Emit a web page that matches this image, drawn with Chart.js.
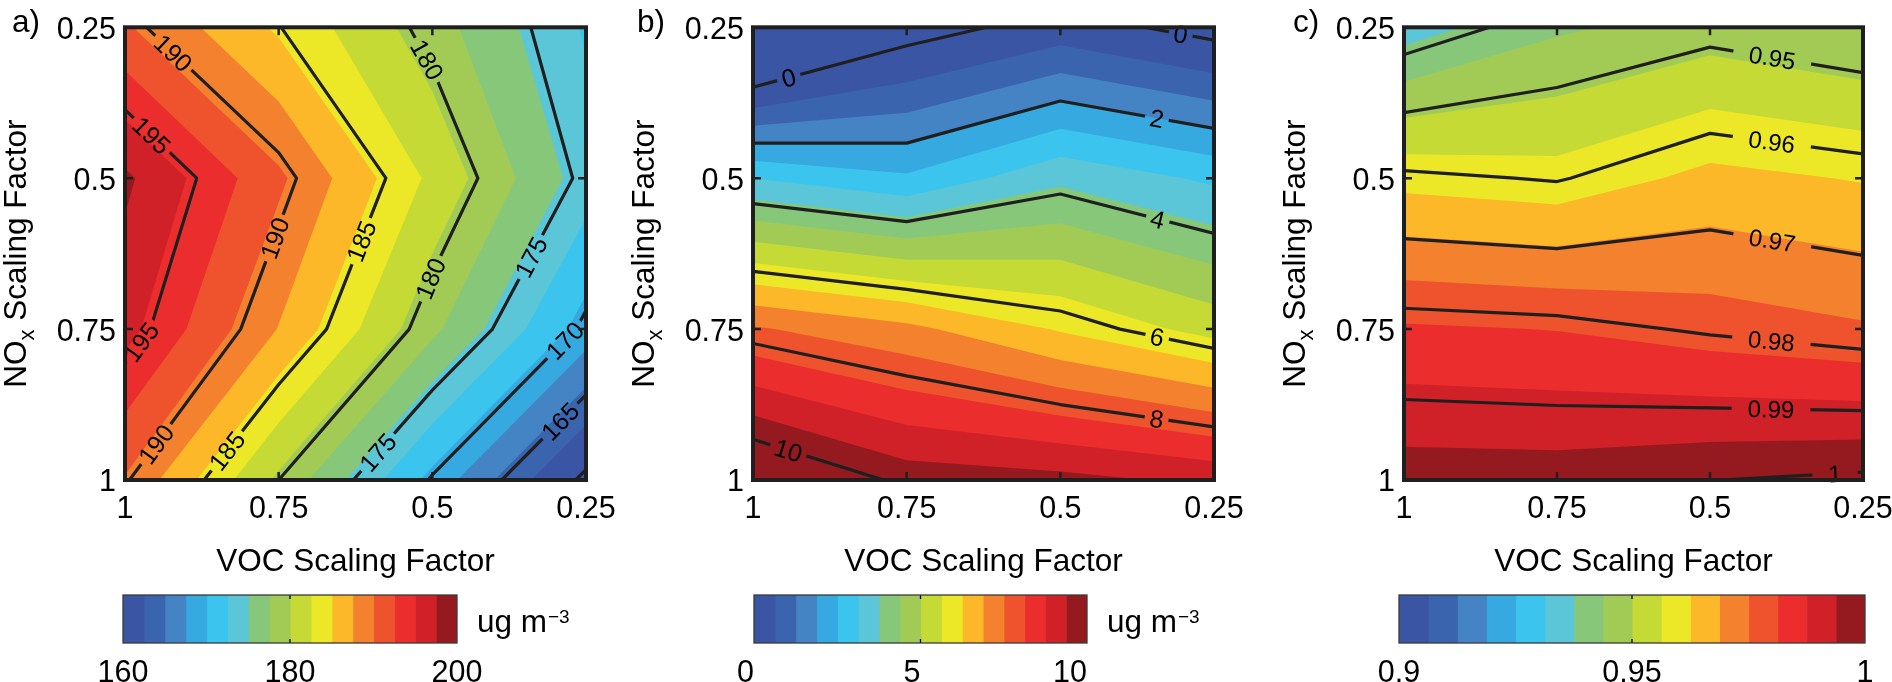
<!DOCTYPE html>
<html>
<head>
<meta charset="utf-8">
<script src="https://cdn.jsdelivr.net/npm/chart.js@4.4.0/dist/chart.umd.min.js"></script>
<style>
html,body{margin:0;padding:0;background:#fff;}
#wrap{position:relative;width:1892px;height:682px;overflow:hidden;background:#fff;}
#wrap canvas{position:absolute;}
</style>
</head>
<body>
<div id="wrap"></div>
<script>
// ---------------- DATA ----------------
const vocScaling = [1, 0.75, 0.5, 0.25];          // columns, left -> right
const noxScaling = [0.25, 0.5, 0.75, 1];          // rows, top -> bottom
const axisTickValues = [0.25, 0.5, 0.75, 1];
const axisTickLabels = ['0.25', '0.5', '0.75', '1'];

// values[row = NOx][col = VOC]
const valuesA = [
  [190.8, 185.1, 179.1, 172.7],
  [198.5, 191.0, 182.4, 174.3],
  [196.4, 187.9, 178.6, 169.4],
  [190.3, 180.0, 169.7, 159.3]
];
const valuesB = [
  [-2.14, -0.38, 0.35, -0.29],
  [3.25, 2.72, 3.73, 3.13],
  [7.70, 7.17, 6.31, 5.51],
  [10.85, 9.85, 9.69, 9.35]
];
const valuesC = [
  [0.9353, 0.9437, 0.9477, 0.9444],
  [0.9613, 0.9595, 0.9652, 0.9630],
  [0.9830, 0.9820, 0.9792, 0.9767],
  [0.9980, 0.9978, 0.9999, 1.0013]
];

const contourLevelsA = [160, 165, 170, 175, 180, 185, 190, 195, 200];
const contourLevelsB = [0, 2, 4, 6, 8, 10];
const contourLevelsC = [0.90, 0.91, 0.92, 0.93, 0.94, 0.95, 0.96, 0.97, 0.98, 0.99, 1.00];

const colorRangeA = [160, 200];
const colorRangeB = [0, 10];
const colorRangeC = [0.9, 1];

const colorbarTicksA = [160, 180, 200];
const colorbarLabelsA = ['160', '180', '200'];
const colorbarTicksB = [0, 5, 10];
const colorbarLabelsB = ['0', '5', '10'];
const colorbarTicksC = [0.9, 0.95, 1];
const colorbarLabelsC = ['0.9', '0.95', '1'];

const COLORS = ['#3B55A5','#3B64AF','#4484C4','#35A9E0','#3BC4EE','#5AC6D8','#87C77A','#A2CB56',
                '#C6DA36','#ECE827','#FCB829','#F3812D','#EE532D','#EB2D2E','#D02128','#951A1F'];

// ---------------- HELPERS ----------------
const FONT = "'Liberation Sans', Arial, Helvetica, sans-serif";
Chart.defaults.font.family = FONT;
Chart.defaults.color = '#000';
const INK = '#1f1f1f';

function lerpPt(a, b, L) {
  const t = (L - a.v) / (b.v - a.v);
  return {x: a.x + t * (b.x - a.x), y: a.y + t * (b.y - a.y), v: L};
}
function clipAbove(poly, L) {
  const out = [];
  for (let i = 0; i < poly.length; i++) {
    const a = poly[i], b = poly[(i + 1) % poly.length];
    const ia = a.v >= L, ib = b.v >= L;
    if (ia) out.push(a);
    if (ia !== ib) out.push(lerpPt(a, b, L));
  }
  return out;
}
function contourLines(nodes, L) {
  const nr = nodes.length, nc = nodes[0].length;
  const val = (r, c) => { const v = nodes[r][c].v; return v === L ? v + 1e-9 : v; };
  const pts = {};
  const edge = (key, r1, c1, r2, c2) => {
    if (!pts[key]) {
      const a = nodes[r1][c1], b = nodes[r2][c2];
      const va = val(r1, c1), vb = val(r2, c2);
      const t = (L - va) / (vb - va);
      pts[key] = {x: a.x + t * (b.x - a.x), y: a.y + t * (b.y - a.y)};
    }
    return key;
  };
  const segs = [];
  for (let r = 0; r < nr - 1; r++) {
    for (let c = 0; c < nc - 1; c++) {
      const tl = val(r, c), tr = val(r, c + 1), br = val(r + 1, c + 1), bl = val(r + 1, c);
      const top = (tl - L) * (tr - L) < 0 ? edge('h' + r + '_' + c, r, c, r, c + 1) : null;
      const right = (tr - L) * (br - L) < 0 ? edge('v' + r + '_' + (c + 1), r, c + 1, r + 1, c + 1) : null;
      const bottom = (bl - L) * (br - L) < 0 ? edge('h' + (r + 1) + '_' + c, r + 1, c, r + 1, c + 1) : null;
      const left = (tl - L) * (bl - L) < 0 ? edge('v' + r + '_' + c, r, c, r + 1, c) : null;
      const list = [top, right, bottom, left].filter(Boolean);
      if (list.length === 2) segs.push(list);
      else if (list.length === 4) {
        const ctr = (tl + tr + br + bl) / 4;
        if ((ctr > L) === (tl > L)) { segs.push([top, right]); segs.push([bottom, left]); }
        else { segs.push([top, left]); segs.push([right, bottom]); }
      }
    }
  }
  const adj = {};
  segs.forEach((s, i) => { (adj[s[0]] = adj[s[0]] || []).push(i); (adj[s[1]] = adj[s[1]] || []).push(i); });
  const used = new Array(segs.length).fill(false);
  const walk = (k0) => {
    const keys = [k0]; let cur = k0;
    for (;;) {
      const nx = (adj[cur] || []).find(i => !used[i]);
      if (nx === undefined) break;
      used[nx] = true;
      const s = segs[nx];
      cur = s[0] === cur ? s[1] : s[0];
      keys.push(cur);
    }
    return keys;
  };
  const lines = [];
  Object.keys(adj).forEach(k => { if (adj[k].length === 1 && !used[adj[k][0]]) lines.push(walk(k)); });
  segs.forEach((s, i) => { if (!used[i]) lines.push(walk(s[0])); });
  return lines.map(ks => ks.map(k => pts[k]));
}
function placeLabels(P0, key, text, tw, fs, o, area) {
  const from = (o.from && o.from[key]) || o.defaultFrom;
  const f = P0[0], l = P0[P0.length - 1];
  let rev = false;
  if (from === 'top') rev = l.y < f.y - 0.5 || (Math.abs(l.y - f.y) <= 0.5 && l.x > f.x);
  else if (from === 'bottom') rev = l.y > f.y + 0.5;
  else if (from === 'right') rev = l.x > f.x;
  else rev = l.x < f.x;
  const P = rev ? P0.slice().reverse() : P0;
  const seg = []; let total = 0;
  for (let i = 0; i < P.length - 1; i++) {
    const dx = P[i + 1].x - P[i].x, dy = P[i + 1].y - P[i].y, len = Math.hypot(dx, dy);
    seg.push({a: P[i], dx, dy, len, s0: total}); total += len;
  }
  const off = (o.offsets && o.offsets[key] != null) ? o.offsets[key] : o.offset;
  const spacing = (o.spacings && o.spacings[key] != null) ? o.spacings[key] : o.spacing;
  const res = [];
  for (let s = off; s < total; s += spacing) {
    const sg = seg.find(q => s >= q.s0 && s <= q.s0 + q.len);
    if (!sg || sg.len === 0) continue;
    const t = (s - sg.s0) / sg.len;
    const cx = sg.a.x + sg.dx * t, cy = sg.a.y + sg.dy * t;
    let ang = Math.atan2(sg.dy, sg.dx);
    if (ang > Math.PI / 2) ang -= Math.PI; else if (ang <= -Math.PI / 2) ang += Math.PI;
    const hw = tw / 2, hh = 0.716 * fs / 2;
    const ex = Math.abs(hw * Math.cos(ang)) + Math.abs(hh * Math.sin(ang));
    const ey = Math.abs(hw * Math.sin(ang)) + Math.abs(hh * Math.cos(ang));
    const tol = o.tol;
    if (cx - ex < area.left - tol || cx + ex > area.right + tol ||
        cy - ey < area.top - tol || cy + ey > area.bottom + tol) continue;
    res.push({cx, cy, ang, text, tw, fs});
  }
  return res;
}

// ---------------- PLUGINS ----------------
const contourPlugin = {
  id: 'contour',
  beforeDatasetsDraw(chart, args, o) {
    const {ctx, chartArea: area, scales: {x, y}} = chart;
    const raw = chart.data.datasets[0].data;
    const nr = noxScaling.length, nc = vocScaling.length;
    const nodes = [];
    for (let r = 0; r < nr; r++) {
      const row = [];
      for (let c = 0; c < nc; c++) {
        const d = raw[r * nc + c];
        row.push({x: x.getPixelForValue(d.x), y: y.getPixelForValue(d.y), v: d.v});
      }
      nodes.push(row);
    }
    const [cmin, cmax] = o.range;
    const step = (cmax - cmin) / COLORS.length;

    ctx.save();
    ctx.beginPath(); ctx.rect(area.left, area.top, area.width, area.height); ctx.clip();
    for (let k = 0; k < COLORS.length; k++) {
      const lv = cmin + (k + o.fillShift) * step;
      ctx.beginPath();
      for (let r = 0; r < nr - 1; r++) for (let c = 0; c < nc - 1; c++) {
        const poly = [nodes[r][c], nodes[r][c + 1], nodes[r + 1][c + 1], nodes[r + 1][c]];
        const p = k === 0 ? poly : clipAbove(poly, lv);
        if (p.length < 3) continue;
        ctx.moveTo(p[0].x, p[0].y);
        for (let i = 1; i < p.length; i++) ctx.lineTo(p[i].x, p[i].y);
        ctx.closePath();
      }
      ctx.fillStyle = COLORS[k];
      ctx.fill();
    }
    ctx.restore();

    const lo = o.labels;
    ctx.save();
    ctx.font = lo.fontSize + 'px ' + FONT;
    const allLines = [], labels = [];
    o.levels.forEach(L => {
      const key = String(parseFloat(L.toFixed(4)));
      const text = key;
      const tw = ctx.measureText(text).width;
      contourLines(nodes, L).forEach(P => {
        if (P.length < 2) return;
        allLines.push(P);
        placeLabels(P, key, text, tw, lo.fontSize, lo, area).forEach(lb => labels.push(lb));
      });
    });
    ctx.beginPath();
    ctx.rect(area.left, area.top, area.width, area.height);
    labels.forEach(lb => {
      const hw = lb.tw / 2 + lo.gap, hh = lb.fs * 0.6;
      const ca = Math.cos(lb.ang), sa = Math.sin(lb.ang);
      const corners = [[-hw, -hh], [hw, -hh], [hw, hh], [-hw, hh]].map(([u, v]) => [lb.cx + u * ca - v * sa, lb.cy + u * sa + v * ca]);
      ctx.moveTo(corners[0][0], corners[0][1]);
      for (let i = 1; i < 4; i++) ctx.lineTo(corners[i][0], corners[i][1]);
      ctx.closePath();
    });
    ctx.clip('evenodd');
    ctx.strokeStyle = INK; ctx.lineWidth = 3.2; ctx.lineJoin = 'round'; ctx.lineCap = 'butt';
    allLines.forEach(P => {
      ctx.beginPath();
      ctx.moveTo(P[0].x, P[0].y);
      for (let i = 1; i < P.length; i++) ctx.lineTo(P[i].x, P[i].y);
      ctx.stroke();
    });
    ctx.restore();

    ctx.save();
    ctx.fillStyle = '#000';
    ctx.font = lo.fontSize + 'px ' + FONT;
    ctx.textAlign = 'center'; ctx.textBaseline = 'alphabetic';
    labels.forEach(lb => {
      ctx.save();
      ctx.translate(lb.cx, lb.cy); ctx.rotate(lb.ang);
      ctx.fillText(lb.text, 0, 0.716 * lb.fs / 2);
      ctx.restore();
    });
    ctx.restore();

    ctx.save();
    ctx.strokeStyle = INK; ctx.lineWidth = 2.5;
    axisTickValues.forEach(t => {
      const px = x.getPixelForValue(t), py = y.getPixelForValue(t);
      ctx.beginPath();
      ctx.moveTo(px, area.top); ctx.lineTo(px, area.top + 8);
      ctx.moveTo(px, area.bottom); ctx.lineTo(px, area.bottom - 8);
      ctx.moveTo(area.left, py); ctx.lineTo(area.left + 8, py);
      ctx.moveTo(area.right, py); ctx.lineTo(area.right - 8, py);
      ctx.stroke();
    });
    ctx.lineWidth = 4;
    ctx.strokeRect(area.left, area.top, area.width, area.height);
    ctx.restore();
  }
};

const decorPlugin = {
  id: 'decor',
  afterDraw(chart, args, o) {
    const {ctx, chartArea: a} = chart;
    ctx.save();
    ctx.fillStyle = '#000';
    ctx.font = '31.5px ' + FONT;
    ctx.textBaseline = 'alphabetic';
    ctx.textAlign = 'center';
    ctx.fillText('VOC Scaling Factor', (a.left + a.right) / 2, 571);
    const big = '31.5px ' + FONT, small = '22px ' + FONT;
    ctx.font = big; const w1 = ctx.measureText('NO').width, w3 = ctx.measureText(' Scaling Factor').width;
    ctx.font = small; const w2 = ctx.measureText('x').width;
    const tot = w1 + w2 + w3;
    ctx.save();
    ctx.translate(a.left - 99, (a.top + a.bottom) / 2);
    ctx.rotate(-Math.PI / 2);
    ctx.textAlign = 'left';
    ctx.font = big; ctx.fillText('NO', -tot / 2, 0);
    ctx.font = small; ctx.fillText('x', -tot / 2 + w1, 8);
    ctx.font = big; ctx.fillText(' Scaling Factor', -tot / 2 + w1 + w2, 0);
    ctx.restore();
    ctx.textAlign = 'left';
    ctx.font = '31.5px ' + FONT;
    ctx.fillText(o.letter, o.letterX - o.canvasLeft, 32);
    ctx.restore();
  }
};

const cbarPlugin = {
  id: 'cbar',
  afterDatasetsDraw(chart, args, o) {
    const {ctx, chartArea: a, scales: {x}} = chart;
    ctx.save();
    ctx.strokeStyle = '#000'; ctx.lineWidth = 1.3;
    o.ticks.slice(1, -1).forEach(v => {
      const px = x.getPixelForValue(v);
      ctx.beginPath();
      ctx.moveTo(px, a.top); ctx.lineTo(px, a.top + 4);
      ctx.moveTo(px, a.bottom); ctx.lineTo(px, a.bottom - 4);
      ctx.stroke();
    });
    ctx.strokeStyle = '#3a3a3a'; ctx.lineWidth = 1.3;
    ctx.strokeRect(a.left, a.top, a.width, a.height);
    if (o.unit) {
      ctx.fillStyle = '#000';
      ctx.textAlign = 'left'; ctx.textBaseline = 'alphabetic';
      ctx.font = '31.5px ' + FONT;
      const ux = a.right + 20;
      ctx.fillText('ug m', ux, a.top + 37);
      const w = ctx.measureText('ug m').width;
      ctx.font = '19px ' + FONT;
      ctx.fillText('\u22123', ux + w + 1, a.top + 28);
    }
    ctx.restore();
  }
};

// ---------------- PANELS ----------------
const panels = [
  {values: valuesA, levels: contourLevelsA, range: colorRangeA, fillShift: 0.2, plotLeft: 125, plotW: 461,
   letter: 'a)', letterX: 12, cbLeft: 123, cbW: 334, cbTicks: colorbarTicksA, cbLabels: colorbarLabelsA, unit: true, cbAlign: 'center',
   labels: {fontSize: 25, gap: 4, spacing: 240, offset: 37, tol: 4, defaultFrom: 'top',
            from: {'185': 'bottom', '175': 'bottom'}, spacings: {'185': 252, '195': 236, '175': 250}}},
  {values: valuesB, levels: contourLevelsB, range: colorRangeB, fillShift: 0.2, plotLeft: 753, plotW: 461,
   letter: 'b)', letterX: 637, cbLeft: 754, cbW: 333, cbTicks: colorbarTicksB, cbLabels: colorbarLabelsB, unit: true, cbAlign: 'end',
   labels: {fontSize: 25, gap: 5, spacing: 440, offset: 58, tol: 4, defaultFrom: 'right',
            from: {'0': 'left', '10': 'left'}, offsets: {'0': 37, '10': 37}}},
  {values: valuesC, levels: contourLevelsC, range: colorRangeC, fillShift: 0.15, plotLeft: 1404, plotW: 459,
   letter: 'c)', letterX: 1293, cbLeft: 1399, cbW: 466, cbTicks: colorbarTicksC, cbLabels: colorbarLabelsC, unit: false, cbAlign: 'center',
   labels: {fontSize: 24, gap: 16, spacing: 500, offset: 92, tol: 4, defaultFrom: 'right', offsets: {'1': 28}}}
];

const wrap = document.getElementById('wrap');
const YAXW = 130, RPAD = 40, TOPPAD = 19, MAINH = 600, XAXH = 120;

panels.forEach(p => {
  const cv = document.createElement('canvas');
  const cLeft = p.plotLeft - YAXW;
  const W = YAXW + p.plotW + RPAD;
  cv.width = W; cv.height = MAINH;
  cv.style.left = cLeft + 'px'; cv.style.top = '0px';
  cv.style.width = W + 'px'; cv.style.height = MAINH + 'px';
  wrap.appendChild(cv);
  const pts = [];
  noxScaling.forEach((ny, r) => vocScaling.forEach((vx, c) => pts.push({x: vx, y: ny, v: p.values[r][c]})));
  const tickLabel = v => { const i = axisTickValues.indexOf(v); return i >= 0 ? axisTickLabels[i] : ''; };
  new Chart(cv, {
    type: 'scatter',
    data: {datasets: [{data: pts, pointRadius: 0, pointHoverRadius: 0, showLine: false}]},
    options: {
      responsive: false, animation: false, events: [], devicePixelRatio: 1,
      layout: {padding: {left: 0, right: RPAD, top: TOPPAD, bottom: 0}},
      plugins: {legend: {display: false}, tooltip: {enabled: false},
        contour: {range: p.range, levels: p.levels, labels: p.labels, fillShift: p.fillShift},
        decor: {letter: p.letter, letterX: p.letterX, canvasLeft: cLeft}},
      scales: {
        x: {type: 'linear', min: 0.25, max: 1, reverse: true,
            grid: {display: false, drawTicks: false}, border: {display: false},
            afterBuildTicks: s => { s.ticks = axisTickValues.map(v => ({value: v})); },
            afterFit: s => { s.height = XAXH; },
            ticks: {padding: 11, font: {size: 30.5}, color: '#000', autoSkip: false, maxRotation: 0, callback: tickLabel}},
        y: {type: 'linear', min: 0.25, max: 1, reverse: true,
            grid: {display: false, drawTicks: false}, border: {display: false},
            afterBuildTicks: s => { s.ticks = axisTickValues.map(v => ({value: v})); },
            afterFit: s => { s.width = YAXW; },
            ticks: {padding: 9, labelOffset: 3, font: {size: 30.5}, color: '#000', autoSkip: false, callback: tickLabel}}
      }
    },
    plugins: [contourPlugin, decorPlugin]
  });

  const cb = document.createElement('canvas');
  const cbL = p.cbLeft - 40;
  const cbRight = p.unit ? 150 : 40;
  const CW = 40 + p.cbW + cbRight, CH = 102;
  cb.width = CW; cb.height = CH;
  cb.style.left = cbL + 'px'; cb.style.top = '580px';
  cb.style.width = CW + 'px'; cb.style.height = CH + 'px';
  wrap.appendChild(cb);
  const [cmin, cmax] = p.range;
  const step = (cmax - cmin) / COLORS.length;
  new Chart(cb, {
    type: 'bar',
    data: {labels: ['cb'], datasets: COLORS.map((col, k) => ({
      data: [[cmin + k * step, cmin + (k + 1) * step]], backgroundColor: col, borderWidth: 0,
      barPercentage: 1, categoryPercentage: 1, grouped: false, inflateAmount: 0.6}))},
    options: {
      indexAxis: 'y', responsive: false, animation: false, events: [], devicePixelRatio: 1,
      layout: {padding: {left: 40, right: cbRight, top: 15, bottom: 0}},
      plugins: {legend: {display: false}, tooltip: {enabled: false},
        cbar: {ticks: p.cbTicks, unit: p.unit}},
      scales: {
        x: {type: 'linear', min: cmin, max: cmax,
            grid: {display: false, drawTicks: false}, border: {display: false},
            afterBuildTicks: s => { s.ticks = p.cbTicks.map(v => ({value: v})); },
            afterFit: s => { s.height = 39; },
            ticks: {padding: 12, font: {size: 30.5}, color: '#000', autoSkip: false, maxRotation: 0, align: p.cbAlign,
                    callback: v => { const i = p.cbTicks.indexOf(v); return i >= 0 ? p.cbLabels[i] : ''; }}},
        y: {display: false}
      }
    },
    plugins: [cbarPlugin]
  });
});
</script>
</body>
</html>
